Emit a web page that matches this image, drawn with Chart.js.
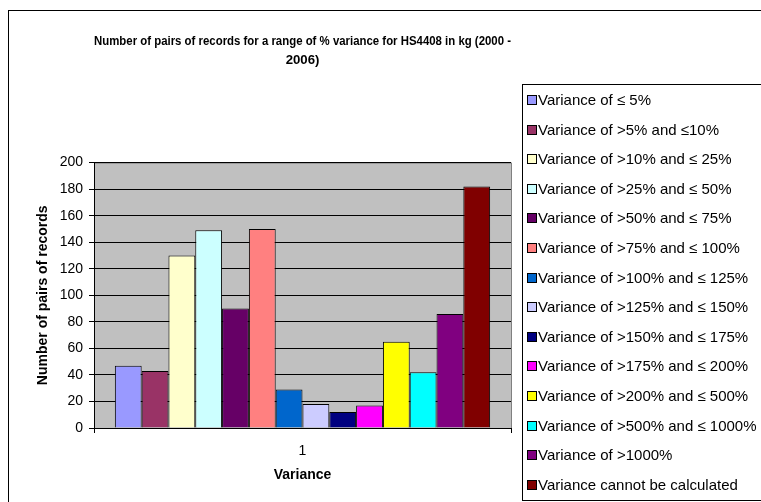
<!DOCTYPE html>
<html><head><meta charset="utf-8">
<script src="https://cdn.jsdelivr.net/npm/chart.js@4"></script>
<style>html,body{margin:0;padding:0;background:#fff}#wrap{width:761px;height:502px}</style>
</head><body><div id="wrap"><canvas id="c" width="761" height="502"></canvas></div>
<script>
const categories = ['1'];
const seriesNames = [
  'Variance of \u2264 5%',
  'Variance of >5% and \u226410%',
  'Variance of >10% and \u2264 25%',
  'Variance of >25% and \u2264 50%',
  'Variance of >50% and \u2264 75%',
  'Variance of >75% and \u2264 100%',
  'Variance of >100% and \u2264 125%',
  'Variance of >125% and \u2264 150%',
  'Variance of >150% and \u2264 175%',
  'Variance of >175% and \u2264 200%',
  'Variance of >200% and \u2264 500%',
  'Variance of >500% and \u2264 1000%',
  'Variance of >1000%',
  'Variance cannot be calculated'
];
const seriesValues = [47, 43, 130, 149, 90, 150, 29, 18, 12, 17, 65, 42, 86, 182];
const seriesColors = ['#9999FF','#993366','#FFFFCC','#CCFFFF','#660066','#FF8080','#0066CC','#CCCCFF','#000080','#FF00FF','#FFFF00','#00FFFF','#800080','#800000'];
const yTicks = [0,20,40,60,80,100,120,140,160,180,200];

const FONT = 'Arial, "Liberation Sans", sans-serif';

const framePlugin = {
  id: 'frame',
  beforeDraw(chart) {
    const ctx = chart.ctx, a = chart.chartArea;
    ctx.save();
    ctx.fillStyle = '#fff';
    ctx.fillRect(0, 0, chart.width, chart.height);
    ctx.strokeStyle = '#000';
    ctx.lineWidth = 1;
    ctx.strokeRect(8.5, 10.5, 800, 600);
    ctx.fillStyle = '#C0C0C0';
    ctx.fillRect(a.left, a.top, a.right - a.left, a.bottom - a.top);
    ctx.strokeStyle = '#808080';
    ctx.strokeRect(a.left + 0.5, a.top + 0.5, a.right - a.left, a.bottom - a.top);
    ctx.restore();
  },
  afterDraw(chart) {
    const ctx = chart.ctx;
    ctx.save();
    const x0 = 522.5, y0 = 84.5;
    ctx.fillStyle = '#fff';
    ctx.fillRect(x0, y0, 300, 416);
    ctx.strokeStyle = '#000';
    ctx.lineWidth = 1;
    ctx.strokeRect(x0, y0, 300, 416);
    ctx.font = '15px ' + FONT;
    ctx.textBaseline = 'middle';
    chart.data.datasets.forEach((ds, i) => {
      const cy = Math.round(100 + i * 29.6);
      ctx.fillStyle = ds.backgroundColor;
      ctx.fillRect(527.5, cy - 4.5, 9, 9);
      ctx.strokeStyle = '#000';
      ctx.strokeRect(527.5, cy - 4.5, 9, 9);
      ctx.fillStyle = '#000';
      ctx.fillText(ds.label, 538, cy + 1);
    });
    ctx.restore();
  }
};

new Chart(document.getElementById('c'), {
  type: 'bar',
  data: {
    labels: categories,
    datasets: seriesNames.map((n, i) => ({
      label: n,
      data: [seriesValues[i]],
      backgroundColor: seriesColors[i],
      borderColor: '#000',
      borderWidth: 1,
      categoryPercentage: 0.9,
      barPercentage: 1
    }))
  },
  options: {
    responsive: false,
    animation: false,
    devicePixelRatio: 1,
    layout: { padding: { left: 20, right: 250, top: 31, bottom: 10 } },
    plugins: {
      legend: { display: false },
      tooltip: { enabled: false },
      title: {
        display: true,
        fullSize: false,
        text: ['Number of pairs of records for a range of % variance for HS4408 in kg (2000 -', '2006)'],
        color: '#000',
        font: { family: FONT, size: 13.2, weight: 'bold', lineHeight: 1.5 },
        padding: { top: 0, bottom: 92 }
      }
    },
    scales: {
      x: {
        offset: true,
        grid: { display: true, drawOnChartArea: false, offset: true, color: '#000', tickLength: 5 },
        border: { display: true, color: '#000' },
        ticks: { color: '#000', font: { family: FONT, size: 14 }, padding: 10 },
        title: { display: true, text: 'Variance', color: '#000', font: { family: FONT, size: 14, weight: 'bold' }, padding: { top: 0, bottom: 8 } },
        afterFit(s) { s.height = 64; }
      },
      y: {
        min: 0, max: 200,
        afterBuildTicks(s) { s.ticks = yTicks.map(v => ({ value: v })); },
        grid: { color: '#000', tickLength: 5 },
        border: { display: true, color: '#000' },
        ticks: { color: '#000', font: { family: FONT, size: 14 }, padding: 6 },
        title: { display: true, text: 'Number of pairs of records', color: '#000', font: { family: FONT, size: 14, weight: 'bold' }, padding: { top: 15, bottom: 0 } },
        afterFit(s) { s.width = 74; }
      }
    }
  },
  plugins: [framePlugin]
});
</script>
</body></html>
